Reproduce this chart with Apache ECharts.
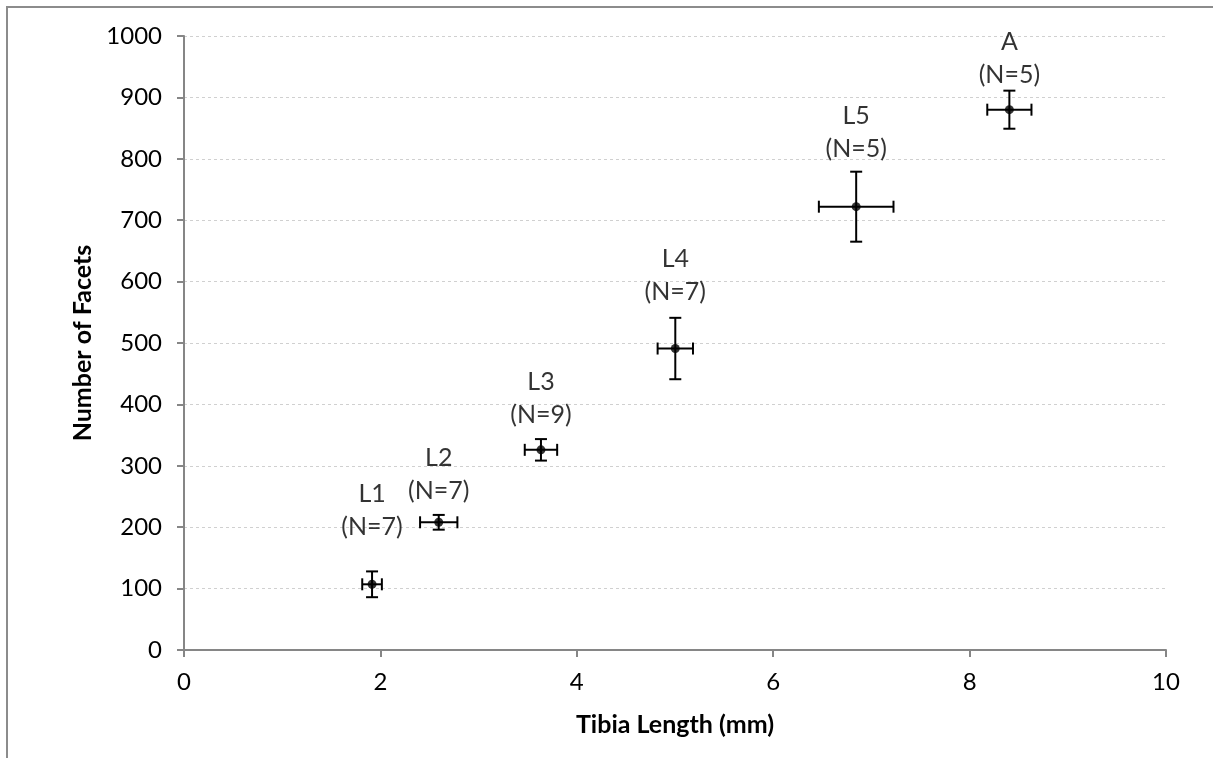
<!DOCTYPE html>
<html>
<head>
<meta charset="utf-8">
<script src="https://cdn.jsdelivr.net/npm/echarts@6/dist/echarts.min.js"></script>
<style>html,body{margin:0;padding:0;background:#fff}#c{width:1213px;height:758px}</style>
</head>
<body>
<div id="c"></div>
<script>
const stages = ['L1', 'L2', 'L3', 'L4', 'L5', 'A'];
const sampleN = [7, 7, 9, 7, 5, 5];
const tibiaLength = [1.915, 2.594, 3.635, 5.003, 6.845, 8.405];
const tibiaErr = [0.10, 0.19, 0.165, 0.18, 0.38, 0.225];
const facets = [107, 208, 326, 491, 722, 880];
const facetsErr = [21, 12, 17.5, 50, 57, 31];

const labelDist = [36, 10, 14, 36, 37, 14];
const FONT = 'Lato, "Open Sans", sans-serif';

const chart = echarts.init(document.getElementById('c'), null, {renderer: 'canvas'});

const errData = tibiaLength.map((x, i) => [x, facets[i], tibiaErr[i], facetsErr[i]]);
const ptData = tibiaLength.map((x, i) => ({
  value: [x, facets[i]],
  name: stages[i] + '\n(N=' + sampleN[i] + ')',
  label: {distance: labelDist[i]}
}));

const option = {
  animation: false,
  backgroundColor: '#fff',
  graphic: [
    {type: 'polyline', shape: {points: [[7, 760], [7, 7], [1215, 7]]},
     style: {stroke: '#8c8c8c', lineWidth: 2, fill: null}, silent: true}
  ],
  grid: {left: 184, right: 47, top: 36, bottom: 108, containLabel: false},
  xAxis: {
    type: 'value', min: 0, max: 10, interval: 2,
    name: 'Tibia Length (mm)', nameLocation: 'middle', nameGap: 62,
    nameTextStyle: {fontFamily: FONT, fontSize: 25, fontWeight: 'bold', color: '#000'},
    axisLine: {show: true, onZero: false, lineStyle: {color: '#868686', width: 2}},
    axisTick: {show: true, inside: false, length: 7, lineStyle: {color: '#868686', width: 2}},
    axisLabel: {fontFamily: FONT, fontSize: 24, color: '#000', margin: 20},
    splitLine: {show: false}
  },
  yAxis: {
    type: 'value', min: 0, max: 1000, interval: 100,
    name: 'Number of Facets', nameLocation: 'middle', nameGap: 85, nameRotate: 90,
    nameTextStyle: {fontFamily: FONT, fontSize: 25, fontWeight: 'bold', color: '#000'},
    axisLine: {show: true, lineStyle: {color: '#868686', width: 2}},
    axisTick: {show: true, inside: false, length: 7, lineStyle: {color: '#868686', width: 2}},
    axisLabel: {fontFamily: FONT, fontSize: 24, color: '#000', margin: 22, formatter: v => String(v)},
    splitLine: {show: true, lineStyle: {color: '#d0d0d0', width: 1, type: [3, 3]}}
  },
  series: [
    {
      type: 'custom',
      data: errData,
      z: 3,
      renderItem: function (params, api) {
        const x = api.value(0), y = api.value(1), ex = api.value(2), ey = api.value(3);
        const c = api.coord([x, y]);
        const top = api.coord([x, y + ey]);
        const bot = api.coord([x, y - ey]);
        const lft = api.coord([x - ex, y]);
        const rgt = api.coord([x + ex, y]);
        const cap = 6;
        const st = {stroke: '#000', lineWidth: 2};
        return {
          type: 'group',
          children: [
            {type: 'line', shape: {x1: c[0], y1: top[1], x2: c[0], y2: bot[1]}, style: st},
            {type: 'line', shape: {x1: c[0] - cap, y1: top[1], x2: c[0] + cap, y2: top[1]}, style: st},
            {type: 'line', shape: {x1: c[0] - cap, y1: bot[1], x2: c[0] + cap, y2: bot[1]}, style: st},
            {type: 'line', shape: {x1: lft[0], y1: c[1], x2: rgt[0], y2: c[1]}, style: st},
            {type: 'line', shape: {x1: lft[0], y1: c[1] - cap, x2: lft[0], y2: c[1] + cap}, style: st},
            {type: 'line', shape: {x1: rgt[0], y1: c[1] - cap, x2: rgt[0], y2: c[1] + cap}, style: st}
          ]
        };
      }
    },
    {
      type: 'scatter',
      data: ptData,
      symbol: 'circle',
      symbolSize: 9,
      z: 4,
      itemStyle: {color: '#000'},
      label: {
        show: true, position: 'top',
        formatter: p => p.name,
        fontFamily: FONT, fontSize: 25, color: '#000', lineHeight: 33, align: 'center'
      }
    }
  ]
};
chart.setOption(option);
</script>
</body>
</html>
